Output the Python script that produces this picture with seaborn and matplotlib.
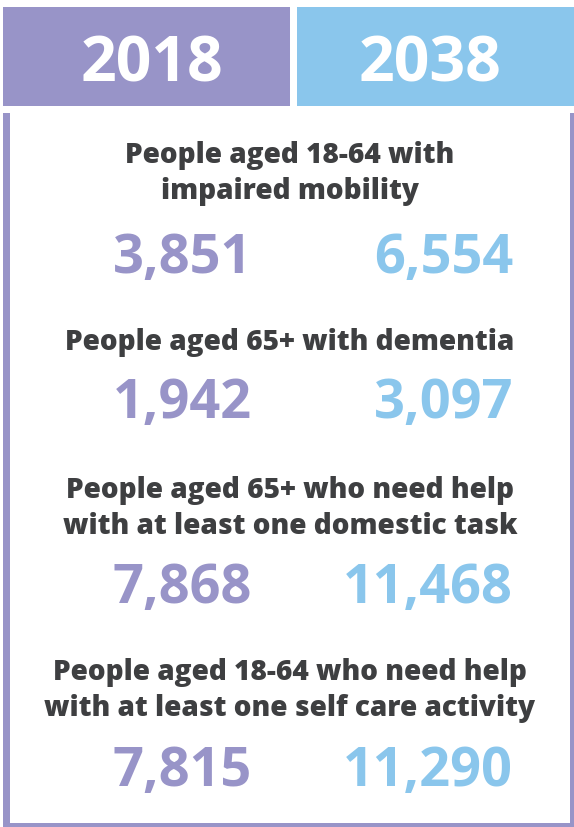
import seaborn as sns
import matplotlib.pyplot as plt
from matplotlib.patches import Rectangle

years = ["2018", "2038"]
titles = [
    ["People aged 18-64 with", "impaired mobility"],
    ["People aged 65+ with dementia"],
    ["People aged 65+ who need help", "with at least one domestic task"],
    ["People aged 18-64 who need help", "with at least one self care activity"],
]
values_2018 = [3851, 1942, 7868, 7815]
values_2038 = [6554, 3097, 11468, 11290]


def main():
    sns.set_theme(style="white")
    plt.rcParams["font.family"] = ["Open Sans", "DejaVu Sans"]
    purple, blue = sns.color_palette(["#9894c8", "#8ac6ec"])
    dark = "#3e3f41"

    fig = plt.figure(figsize=(5.74, 8.27), dpi=100)
    ax = fig.add_axes([0, 0, 1, 1])
    ax.set_xlim(0, 574)
    ax.set_ylim(827, 0)
    ax.axis("off")

    # header boxes
    ax.add_patch(Rectangle((3, 7), 287, 99, color=purple, lw=0))
    ax.add_patch(Rectangle((297, 7), 277, 99, color=blue, lw=0))
    for x, year in zip([152, 430], years):
        ax.text(x, 82, year, color="white", fontsize=45, fontweight="bold",
                ha="center", va="baseline")

    # open frame (left, right, bottom)
    ax.add_patch(Rectangle((3, 113), 7, 714, color=purple, lw=0))
    ax.add_patch(Rectangle((570, 113), 4, 714, color=purple, lw=0))
    ax.add_patch(Rectangle((3, 823), 571, 4, color=purple, lw=0))

    title_base = [163, 350, 498, 680]
    num_base = [273, 418, 603, 786]
    for i, lines in enumerate(titles):
        for j, line in enumerate(lines):
            ax.text(290, title_base[i] + j * 36, line, color=dark, fontsize=20.2,
                    fontweight="heavy", ha="center", va="baseline")
        ax.text(252, num_base[i], f"{values_2018[i]:,}", color=purple, fontsize=39,
                fontweight="bold", ha="right", va="baseline")
        ax.text(513, num_base[i], f"{values_2038[i]:,}", color=blue, fontsize=39,
                fontweight="bold", ha="right", va="baseline")

    fig.savefig("out.png", dpi=100)


if __name__ == '__main__':
    main()
